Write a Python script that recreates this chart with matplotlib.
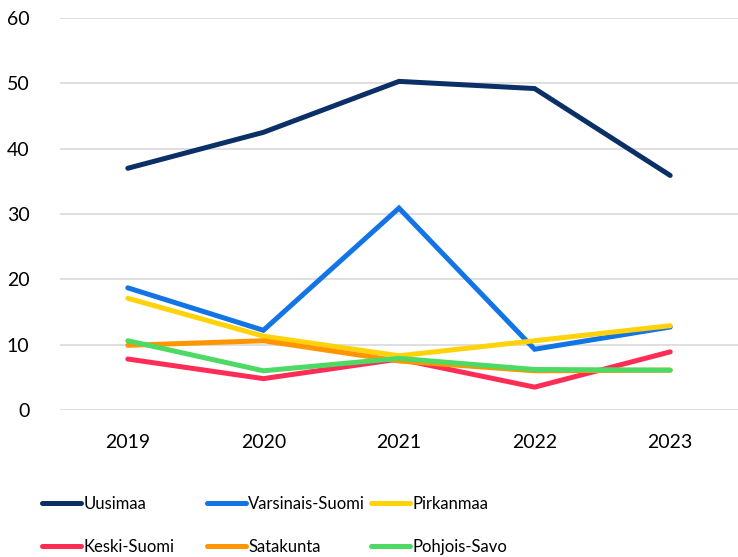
import matplotlib.pyplot as plt

plt.rcParams['font.family'] = ['Lato', 'DejaVu Sans']

# Data
years = ['2019', '2020', '2021', '2022', '2023']
uusimaa = [37.0, 42.5, 50.3, 49.2, 35.9]
varsinais_suomi = [18.7, 12.2, 30.9, 9.3, 12.7]
pirkanmaa = [17.1, 11.3, 8.3, 10.6, 12.9]
keski_suomi = [7.8, 4.8, 7.8, 3.5, 8.9]
satakunta = [9.9, 10.6, 7.5, 6.0, 6.1]
pohjois_savo = [10.6, 6.0, 7.9, 6.2, 6.1]

series = [
    ('Uusimaa', uusimaa, '#0b3068'),
    ('Varsinais-Suomi', varsinais_suomi, '#1374e6'),
    ('Pirkanmaa', pirkanmaa, '#ffd20a'),
    ('Keski-Suomi', keski_suomi, '#ff2d55'),
    ('Satakunta', satakunta, '#ff9500'),
    ('Pohjois-Savo', pohjois_savo, '#4cd964'),
]

fig = plt.figure(figsize=(7.38, 5.57), dpi=100)
ax = fig.add_axes([60 / 738, 1 - 410 / 557, 678 / 738, 392 / 557])

x = list(range(len(years)))
lines = []
for name, vals, col in series:
    ln, = ax.plot(x, vals, color=col, lw=3.6, solid_capstyle='round',
                  solid_joinstyle='miter', label=name)
    lines.append(ln)

ax.set_xlim(-0.5, len(years) - 0.5)
ax.set_ylim(0, 60)
ax.set_yticks(range(0, 61, 10))
ax.set_xticks(x)
ax.set_xticklabels(years)
ax.grid(axis='y', color='#d9d9d9', lw=1.2)
ax.set_axisbelow(True)
for s in ax.spines.values():
    s.set_visible(False)
ax.tick_params(length=0, labelsize=14, colors='#000000')
ax.tick_params(axis='y', pad=22)
ax.tick_params(axis='x', pad=17)

# legend in three columns
for i, xpos in enumerate([42, 207, 371]):
    fig.legend(handles=[lines[i], lines[i + 3]], loc='upper left',
               bbox_to_anchor=(xpos / 738, 1 - 496 / 557), frameon=False,
               fontsize=12, handlelength=2.35, handletextpad=0.12,
               labelspacing=1.6, borderpad=0, borderaxespad=0)

fig.savefig('out.png', dpi=100)
